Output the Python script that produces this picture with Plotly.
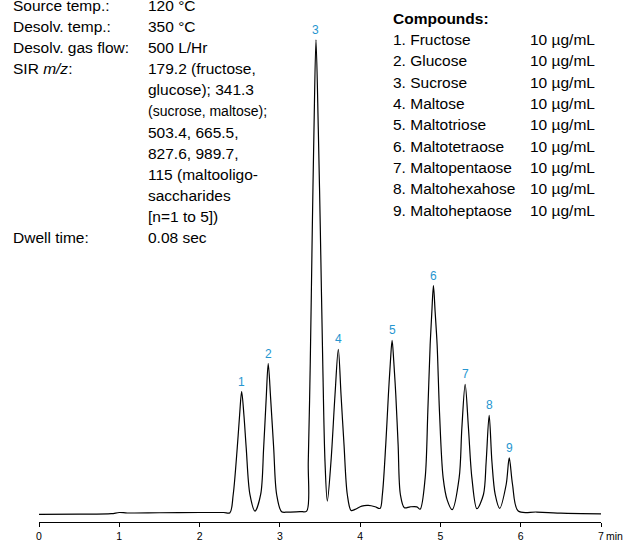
import plotly.graph_objects as go

# Chromatogram trace: retention time (min) vs. relative signal (%)
time_min = [0, 0.5, 0.9, 1.0, 1.1, 1.5, 2.0, 2.3,
            2.378, 2.419, 2.469, 2.499, 2.524, 2.552, 2.581, 2.627, 2.690,
            2.761, 2.798, 2.830, 2.855, 2.885, 2.923, 2.960, 3.022, 3.1, 3.25,
            3.334, 3.354, 3.379, 3.404, 3.425, 3.450, 3.479, 3.504, 3.534, 3.562, 3.591,
            3.637, 3.687, 3.728, 3.762, 3.799, 3.840, 3.887,
            3.936, 4.020, 4.102, 4.186, 4.248,
            4.277, 4.319, 4.352, 4.377, 4.398, 4.419, 4.444, 4.473, 4.501, 4.551,
            4.622, 4.706, 4.747,
            4.810, 4.843, 4.872, 4.893, 4.913, 4.934, 4.959, 4.988, 5.034, 5.085, 5.146,
            5.233, 5.267, 5.308, 5.349, 5.392, 5.454,
            5.536, 5.570, 5.607, 5.641, 5.682, 5.738,
            5.819, 5.857, 5.898, 5.969, 6.2, 6.5, 7.0]

signal = [0, 0.05, 0.15, 0.4, 0.3, 0.35, 0.4, 0.4,
          0.36, 4.2, 14.0, 21.0, 25.9, 21.0, 14.0, 4.2, 0.7,
          4.2, 14.0, 24.5, 31.8, 24.5, 14.0, 4.2, 0.57, 0.5, 0.6,
          0.71, 11.2, 32.2, 60.1, 81.1, 100, 81.1, 60.1, 32.2, 11.2, 2.8,
          11.2, 25.2, 34.8, 25.2, 14.7, 4.2, 0.84,
          1.05, 1.76, 1.89, 1.62, 1.26,
          4.2, 14.7, 25.2, 32.2, 36.7, 32.2, 25.2, 14.7, 4.2, 1.4,
          1.6, 1.6, 1.1,
          7.7, 21.7, 35.7, 42.7, 48.2, 42.7, 35.7, 21.7, 7.7, 3.0, 1.0,
          7.7, 18.2, 27.4, 18.2, 7.7, 1.2,
          4.2, 11.2, 20.9, 11.2, 4.2, 1.26,
          6.3, 11.9, 6.3, 0.71, 0.5, 0.25, 0.1]

# Peak apexes used for the numbered labels
peak_ids = ["1", "2", "3", "4", "5", "6", "7", "8", "9"]
peak_rt = [2.524, 2.855, 3.450, 3.728, 4.398, 4.913, 5.308, 5.607, 5.857]
peak_height = [25.9, 31.8, 100, 34.8, 36.7, 48.2, 27.4, 20.9, 11.9]

# Axis ticks
x_ticks = [0, 1, 2, 3, 4, 5, 6, 7]

# MS conditions
cond_labels = ["Source temp.:", "Desolv. temp.:", "Desolv. gas flow:", "SIR <i>m/z</i>:"]
cond_values = ["120 °C", "350 °C", "500 L/Hr", "179.2 (fructose,"]
sir_lines = ["glucose); 341.3", "(sucrose, maltose);", "503.4, 665.5,",
             "827.6, 989.7,", "115 (maltooligo-", "saccharides", "[n=1 to 5])"]
dwell_label = "Dwell time:"
dwell_value = "0.08 sec"

# Compound table
compound_names = ["Fructose", "Glucose", "Sucrose", "Maltose", "Maltotriose",
                  "Maltotetraose", "Maltopentaose", "Maltohexahose", "Maltoheptaose"]
concentrations = ["10 µg/mL"] * 9

FONT = "Arial, Liberation Sans, sans-serif"
W, H = 624, 542
ML, MR, MT, MB = 39, 23, 0, 18
PW, PH = W - ML - MR, H - MT - MB
LABEL_BLUE = "#2696d0"
TXT = 15.5


def px_x(x):
    return (x - ML) / PW


def px_y(y):
    return (H - MB - y) / PH


fig = go.Figure()
fig.add_trace(go.Scatter(
    x=time_min, y=signal, mode="lines",
    line=dict(color="black", width=1.2, shape="spline", smoothing=0.9),
    hoverinfo="skip", showlegend=False,
))

annotations = []

for pid, rt, h in zip(peak_ids, peak_rt, peak_height):
    annotations.append(dict(
        x=rt, y=h, xref="x", yref="y", text=pid, showarrow=False,
        yanchor="middle", xanchor="center", yshift=10,
        font=dict(family=FONT, size=12, color=LABEL_BLUE),
    ))


def text_row(x, y, text, size=TXT, bold=False):
    annotations.append(dict(
        x=px_x(x), y=px_y(y), xref="paper", yref="paper",
        text=f"<b>{text}</b>" if bold else text, showarrow=False,
        xanchor="left", yanchor="middle",
        font=dict(family=FONT, size=size, color="black"),
    ))


ROW0, ROW_STEP = 5.5, 21.2
COL1, COL2 = 10.5, 146
for i, (lab, val) in enumerate(zip(cond_labels, cond_values)):
    text_row(COL1, ROW0 + i * ROW_STEP, lab)
    text_row(COL2, ROW0 + i * ROW_STEP, val)
for j, line in enumerate(sir_lines):
    size = TXT - 1.5 if line.startswith("(sucrose") else TXT
    text_row(COL2, ROW0 + (len(cond_labels) + j) * ROW_STEP, line, size=size)
n_rows = len(cond_labels) + len(sir_lines)
text_row(COL1, ROW0 + n_rows * ROW_STEP, dwell_label)
text_row(COL2, ROW0 + n_rows * ROW_STEP, dwell_value)

CMP_X, CONC_X = 390.5, 527.5
CMP_Y0, CMP_STEP = 18.3, 21.4
text_row(CMP_X, CMP_Y0, "Compounds:", bold=True)
for k, (name, conc) in enumerate(zip(compound_names, concentrations)):
    yy = CMP_Y0 + (k + 1) * CMP_STEP
    text_row(CMP_X, yy, f"{k + 1}. {name}")
    text_row(CONC_X, yy, conc)

# Unit after the last tick label
annotations.append(dict(
    x=x_ticks[-1], y=0, xref="x", yref="paper", text="min", showarrow=False,
    xanchor="left", yanchor="top", xshift=3, yshift=-6,
    font=dict(family=FONT, size=10.5, color="black"),
))

fig.update_layout(
    width=W, height=H,
    margin=dict(l=ML, r=MR, t=MT, b=MB, pad=0),
    paper_bgcolor="white", plot_bgcolor="white",
    annotations=annotations,
    xaxis=dict(
        range=[0, 7], tickvals=x_ticks, ticktext=[str(t) for t in x_ticks],
        showline=True, linecolor="black", linewidth=1,
        ticks="outside", ticklen=4, tickwidth=1, tickcolor="black",
        showgrid=False, zeroline=False,
        tickfont=dict(family=FONT, size=10.5, color="black"),
    ),
    yaxis=dict(range=[-1.6, 108.4], visible=False, showgrid=False, zeroline=False),
)

fig.write_html("out.html")
